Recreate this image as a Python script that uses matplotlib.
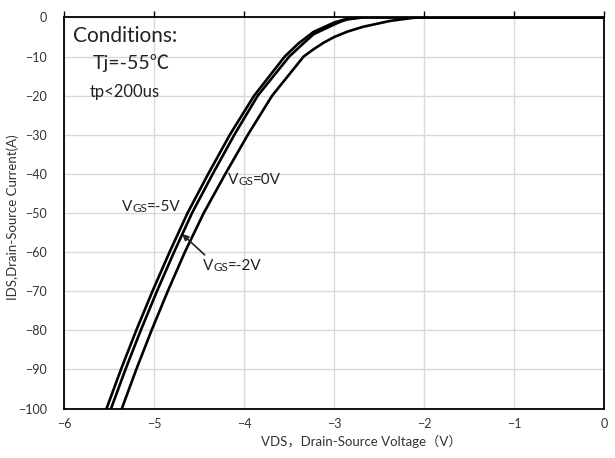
#curvas de salida IDS-VDS a Tj=-55C
import numpy as np
import matplotlib.pyplot as plt

plt.rcParams['font.family'] = ['Lato', 'Noto Sans CJK SC', 'DejaVu Sans']

#datos
vds_m5 = [-5.53, -5.37, -5.20, -5.02, -4.83, -4.63, -4.40, -4.16, -3.89, -3.55, -3.40, -3.23, -3.0, -2.92, -2.85, -2.7, 0]
ids_m5 = [-100, -90, -80, -70, -60, -50, -40, -30, -20, -10, -6.7, -3.7, -1.3, -0.75, -0.3, 0, 0]

vds_m2 = [-5.48, -5.32, -5.15, -4.97, -4.78, -4.58, -4.35, -4.11, -3.85, -3.50, -3.36, -3.23, -3.0, -2.92, -2.85, -2.68, 0]
ids_m2 = [-100, -90, -80, -70, -60, -50, -40, -30, -20, -10, -7.0, -4.3, -1.8, -1.0, -0.5, 0, 0]

vds_0 = [-5.36, -5.20, -5.03, -4.85, -4.66, -4.45, -4.21, -3.96, -3.69, -3.34, -3.24, -3.12, -3.0, -2.85, -2.68, -2.38, -2.12, -2.0, 0]
ids_0 = [-100, -90, -80, -70, -60, -50, -40, -30, -20, -10, -8.3, -6.5, -5.0, -3.6, -2.4, -0.9, -0.1, 0, 0]

xticks = [-6, -5, -4, -3, -2, -1, 0]
yticks = [0, -10, -20, -30, -40, -50, -60, -70, -80, -90, -100]

fig = plt.figure(figsize=(6.15, 4.58), dpi=100)
ax = fig.add_axes([0.1045, 0.108, 0.878, 0.854])

for x, y in [(vds_m5, ids_m5), (vds_m2, ids_m2), (vds_0, ids_0)]:
    ax.plot(x, y, color="black", lw=1.9, solid_joinstyle="round")

ax.set_xlim(-6, 0)
ax.set_ylim(-100, 0)
ax.set_xticks(xticks)
ax.set_yticks(yticks)
ax.grid(True, color="#d9d9d9", lw=1)
ax.set_axisbelow(True)
for s in ax.spines.values():
    s.set_color("black")
    s.set_linewidth(1.3)
ax.tick_params(axis="x", bottom=False, top=True, labelbottom=True, labeltop=False,
               direction="out", length=4, width=1, pad=3, labelsize=9, colors="#333333")
ax.tick_params(axis="x", which="both", labelcolor="#333333", color="black")
ax.tick_params(axis="y", left=False, pad=9, labelsize=9, colors="#333333")

fig.text(0.587, 0.036, "VDS，Drain-Source Voltage（V）", ha="center", va="center",
         fontsize=9.5, color="#333333")
fig.text(0.02, 0.525, "IDS,Drain-Source Current(A)", ha="center", va="center",
         rotation=90, fontsize=9.5, color="#333333")

#condiciones
ax.text(-5.90, -4.8, "Conditions:", fontsize=15, va="center", ha="left", color="#222222")
ax.text(-5.68, -11.6, "Tj=-55℃", fontsize=14, va="center", ha="left", color="#222222")
ax.text(-5.72, -19.0, "tp<200us", fontsize=12, va="center", ha="left", color="#222222")

#etiquetas VGS
def etiqueta(x, y, resto):
    t1 = ax.text(x, y, "V", fontsize=11, va="baseline", ha="left", color="#222222")
    t2 = ax.annotate("GS", xy=(1, 0), xycoords=t1, va="bottom", ha="left",
                     fontsize=8.5, color="#222222")
    ax.annotate(resto, xy=(1, 0), xycoords=t2, va="bottom", ha="left",
                fontsize=11, color="#222222")

etiqueta(-5.36, -49.5, "=-5V")
etiqueta(-4.18, -42.7, "=0V")
etiqueta(-4.46, -64.5, "=-2V")

ax.annotate("", xy=(-4.69, -55.4), xytext=(-4.44, -60.7),
            arrowprops=dict(arrowstyle="-|>", color="#222222", lw=1.2,
                            mutation_scale=9, shrinkA=0, shrinkB=0))

fig.savefig("out.png", dpi=100)
